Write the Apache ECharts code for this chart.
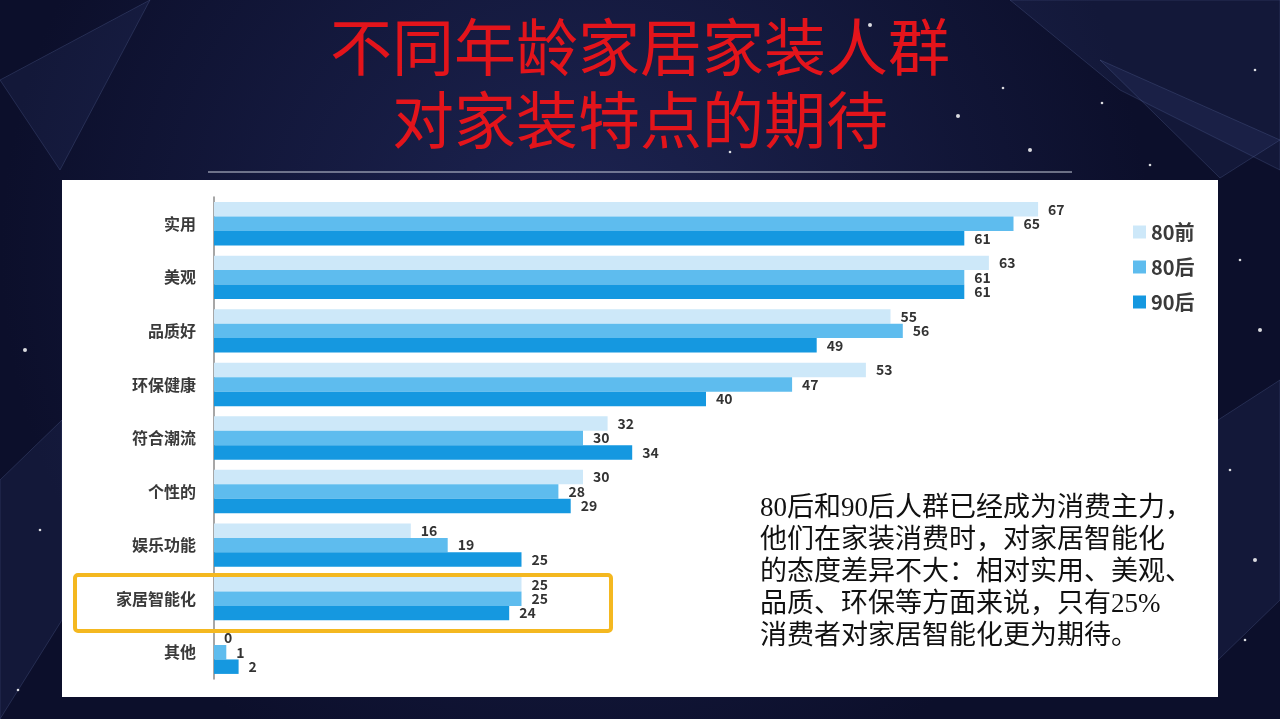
<!DOCTYPE html>
<html>
<head>
<meta charset="utf-8">
<script src="https://cdn.jsdelivr.net/npm/echarts@6/dist/echarts.min.js"></script>
<style>
html,body{margin:0;padding:0;background:#11153a;}
#main{width:1280px;height:719px;}
</style>
</head>
<body>
<div id="main"></div>
<script>
var categories = ['实用', '美观', '品质好', '环保健康', '符合潮流', '个性的', '娱乐功能', '家居智能化', '其他']
var seriesNames = ['80前', '80后', '90后']
var before80 = [67, 63, 55, 53, 32, 30, 16, 25, 0]
var after80 = [65, 61, 56, 47, 30, 28, 19, 25, 1]
var after90 = [61, 61, 49, 40, 34, 29, 25, 24, 2]
var titleLines = ['不同年龄家居家装人群', '对家装特点的期待']
var noteLines = [
	'80后和90后人群已经成为消费主力，',
	'他们在家装消费时，对家居智能化',
	'的态度差异不大：相对实用、美观、',
	'品质、环保等方面来说，只有25%',
	'消费者对家居智能化更为期待。'
]
var colorList = ['#cde8f9', '#5ebcee', '#1598e0']

var chart = echarts.init(document.getElementById('main'))
var fontCJK = '"Noto Sans CJK SC", "Noto Sans", sans-serif'
var fontSerif = '"Liberation Serif", "Noto Sans CJK SC", serif'

function makeSeries(name, data, i) {
	return {
		name: name,
		type: 'bar',
		data: data,
		barGap: '0%',
		barCategoryGap: '19%',
		itemStyle: { color: colorList[i] },
		label: {
			show: true,
			position: 'right',
			distance: 10,
			color: '#333',
			fontSize: 14,
			fontWeight: 'bold',
			fontFamily: fontCJK
		}
	}
}

// decorative background: faint polygons and stars
var deco = []
var polys = [
	[[1010, 0], [1280, 0], [1280, 170], [1120, 90]],
	[[1100, 60], [1280, 140], [1220, 178]],
	[[0, 480], [62, 420], [62, 620], [0, 719]],
	[[1218, 420], [1280, 380], [1280, 600], [1218, 660]],
	[[0, 80], [150, 0], [60, 170]]
]
polys.forEach(function (p) {
	deco.push({
		type: 'polygon', z: -5,
		shape: { points: p },
		style: { fill: 'rgba(90,110,190,0.10)', stroke: 'rgba(140,160,220,0.18)', lineWidth: 1 },
		silent: true
	})
})
var stars = [[870, 25], [1003, 88], [1102, 103], [958, 116], [1255, 70], [1240, 260], [1260, 330], [1230, 470], [1150, 165],
	[25, 350], [40, 530], [18, 690], [1255, 560], [1245, 640], [730, 152], [1030, 150]]
stars.forEach(function (s, i) {
	deco.push({
		type: 'circle', z: -5,
		shape: { cx: s[0], cy: s[1], r: i % 3 === 0 ? 2 : 1.3 },
		style: { fill: 'rgba(255,255,255,0.85)' },
		silent: true
	})
})

var option = {
	backgroundColor: {
		type: 'radial', x: 0.45, y: 0.35, r: 0.8,
		colorStops: [{ offset: 0, color: '#1d2452' }, { offset: 1, color: '#0c0f2b' }]
	},
	animation: false,
	legend: {
		orient: 'vertical',
		left: 1128,
		top: 217,
		itemWidth: 13,
		itemHeight: 13,
		itemGap: 15,
		itemStyle: { borderWidth: 0 },
		icon: 'rect',
		textStyle: { fontSize: 20, color: '#3a3a3a', fontWeight: 'bold', fontFamily: fontCJK },
		data: seriesNames
	},
	grid: {
		left: 214,
		top: 197,
		width: 984,
		height: 482,
		containLabel: false
	},
	xAxis: {
		type: 'value',
		min: 0,
		max: 80,
		show: false
	},
	yAxis: {
		type: 'category',
		inverse: true,
		data: categories,
		axisLine: { show: true, lineStyle: { color: '#8a8a8a', width: 1.5 } },
		axisTick: { show: false },
		axisLabel: { margin: 18, fontSize: 16, fontWeight: 'bold', color: '#3a3a3a', fontFamily: fontCJK }
	},
	graphic: deco.concat([
		{
			type: 'rect', z: -1,
			shape: { x: 62, y: 180, width: 1156, height: 517 },
			style: { fill: '#ffffff' }
		},
		{
			type: 'line',
			shape: { x1: 208, y1: 172, x2: 1072, y2: 172 },
			style: { stroke: '#c9cedb', lineWidth: 1 }
		},
		{
			type: 'text', left: 'center', top: 24,
			style: { text: titleLines[0], fill: '#e3141b', font: '62px ' + fontSerif }
		},
		{
			type: 'text', left: 'center', top: 97,
			style: { text: titleLines[1], fill: '#e3141b', font: '62px ' + fontSerif }
		},
		{
			type: 'text', left: 760, top: 493,
			style: {
				text: noteLines.join('\n'),
				fill: '#111',
				font: '27px ' + fontSerif,
				lineHeight: 32
			}
		},
		{
			type: 'rect', z: 100,
			shape: { x: 75, y: 575, width: 536, height: 56, r: 3 },
			style: { fill: 'none', stroke: '#f4b820', lineWidth: 4 }
		}
	]),
	series: [
		makeSeries(seriesNames[0], before80, 0),
		makeSeries(seriesNames[1], after80, 1),
		makeSeries(seriesNames[2], after90, 2)
	]
}

chart.setOption(option)
window.onresize = function () {
	chart.resize()
}
</script>
</body>
</html>
